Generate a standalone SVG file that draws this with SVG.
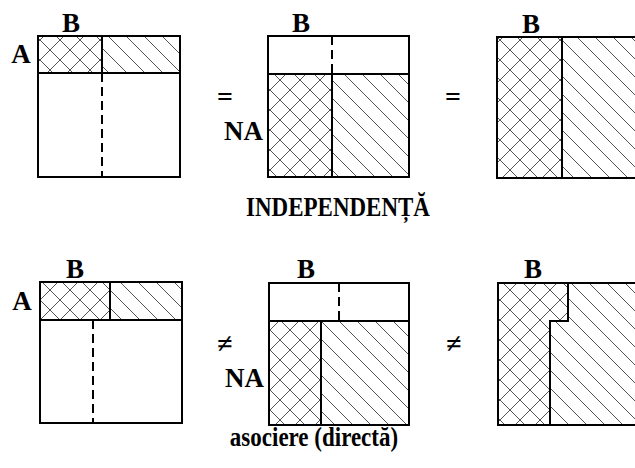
<svg xmlns="http://www.w3.org/2000/svg" width="635" height="468" viewBox="0 0 635 468">
  <style>
    .lbl { font-family: 'Liberation Serif', 'DejaVu Serif', 'Times New Roman', serif; font-weight: bold; font-size: 27px; fill: #000; }
    .cap { font-family: 'Liberation Serif', 'DejaVu Serif', 'Times New Roman', serif; font-weight: bold; font-size: 23px; fill: #000; }
    .op { font-family: 'Liberation Serif', 'DejaVu Serif', 'Times New Roman', serif; font-weight: bold; font-size: 28px; fill: #000; }
    .frame { fill: none; stroke: #000; stroke-width: 2; }
    .div { stroke: #000; stroke-width: 2; fill: none; }
    .dash { stroke: #000; stroke-width: 2; stroke-dasharray: 9 5; fill: none; }
    .xh { fill: url(#cross); stroke: none; }
    .dh { fill: url(#diag); stroke: none; }
  </style>
  <defs>
    <pattern id="cross" patternUnits="userSpaceOnUse" width="20" height="20">
      <path d="M-1,-1 L21,21 M21,-1 L-1,21" stroke="#555" stroke-width="1" fill="none"/>
    </pattern>
    <pattern id="diag" patternUnits="userSpaceOnUse" width="18" height="18">
      <path d="M-1,-1 L19,19 M-10,8 L1,19 M17,-1 L28,10" stroke="#555" stroke-width="1" fill="none"/>
    </pattern>
  </defs>
  <rect width="635" height="468" fill="#fff"/>

  <!-- Top row -->
  <g id="top-left">
    <rect class="xh" x="38" y="36" width="64" height="37"/>
    <rect class="dh" x="102" y="36" width="78" height="37"/>
    <rect class="frame" x="38" y="36" width="142" height="141"/>
    <line class="div" x1="38" y1="73" x2="180" y2="73"/>
    <line class="div" x1="102" y1="36" x2="102" y2="73"/>
    <line class="dash" x1="102" y1="73" x2="102" y2="177"/>
    <text class="lbl" x="71" y="32" text-anchor="middle">B</text>
    <text class="lbl" x="21" y="63" text-anchor="middle">A</text>
  </g>
  <text class="op" x="225" y="106" text-anchor="middle">=</text>
  <g id="top-middle">
    <rect class="xh" x="268" y="74" width="64" height="103"/>
    <rect class="dh" x="332" y="74" width="77" height="103"/>
    <rect class="frame" x="268" y="36" width="141" height="141"/>
    <line class="div" x1="268" y1="74" x2="409" y2="74"/>
    <line class="dash" x1="332" y1="36" x2="332" y2="74"/>
    <line class="div" x1="332" y1="74" x2="332" y2="177"/>
    <text class="lbl" x="301" y="32" text-anchor="middle">B</text>
    <text class="lbl" x="263" y="140" text-anchor="end">NA</text>
  </g>
  <text class="op" x="453" y="106" text-anchor="middle">=</text>
  <g id="top-right">
    <rect class="xh" x="497" y="37" width="65" height="141"/>
    <rect class="dh" x="562" y="37" width="80" height="141"/>
    <rect class="frame" x="497" y="37" width="145" height="141"/>
    <line class="div" x1="562" y1="37" x2="562" y2="178"/>
    <text class="lbl" x="531" y="33" text-anchor="middle">B</text>
  </g>
  <text class="cap" transform="translate(338,216) scale(1,1.15)" text-anchor="middle">INDEPENDENȚĂ</text>

  <!-- Bottom row -->
  <g id="bottom-left">
    <rect class="xh" x="40" y="282" width="70" height="38"/>
    <rect class="dh" x="110" y="282" width="72" height="38"/>
    <rect class="frame" x="40" y="282" width="142" height="141"/>
    <line class="div" x1="40" y1="320" x2="182" y2="320"/>
    <line class="div" x1="110" y1="282" x2="110" y2="320"/>
    <line class="dash" x1="93" y1="320" x2="93" y2="423"/>
    <text class="lbl" x="75" y="278" text-anchor="middle">B</text>
    <text class="lbl" x="22" y="310" text-anchor="middle">A</text>
  </g>
  <text class="op" x="225" y="353" text-anchor="middle">≠</text>
  <g id="bottom-middle">
    <rect class="xh" x="269" y="321" width="52" height="104"/>
    <rect class="dh" x="321" y="321" width="88" height="104"/>
    <rect class="frame" x="269" y="283" width="140" height="142"/>
    <line class="div" x1="269" y1="321" x2="409" y2="321"/>
    <line class="dash" x1="339" y1="283" x2="339" y2="321"/>
    <line class="div" x1="321" y1="321" x2="321" y2="425"/>
    <text class="lbl" x="306" y="278" text-anchor="middle">B</text>
    <text class="lbl" x="264" y="387" text-anchor="end">NA</text>
  </g>
  <text class="op" x="454" y="353" text-anchor="middle">≠</text>
  <g id="bottom-right">
    <polygon class="xh" points="498,283 568,283 568,321 550,321 550,425 498,425"/>
    <polygon class="dh" points="568,283 642,283 642,425 550,425 550,321 568,321"/>
    <rect class="frame" x="498" y="283" width="144" height="142"/>
    <polyline class="div" points="568,283 568,321 550,321 550,425"/>
    <text class="lbl" x="533" y="278" text-anchor="middle">B</text>
  </g>
  <text class="cap" transform="translate(314,446) scale(1,1.15)" text-anchor="middle">asociere (directă)</text>
</svg>
